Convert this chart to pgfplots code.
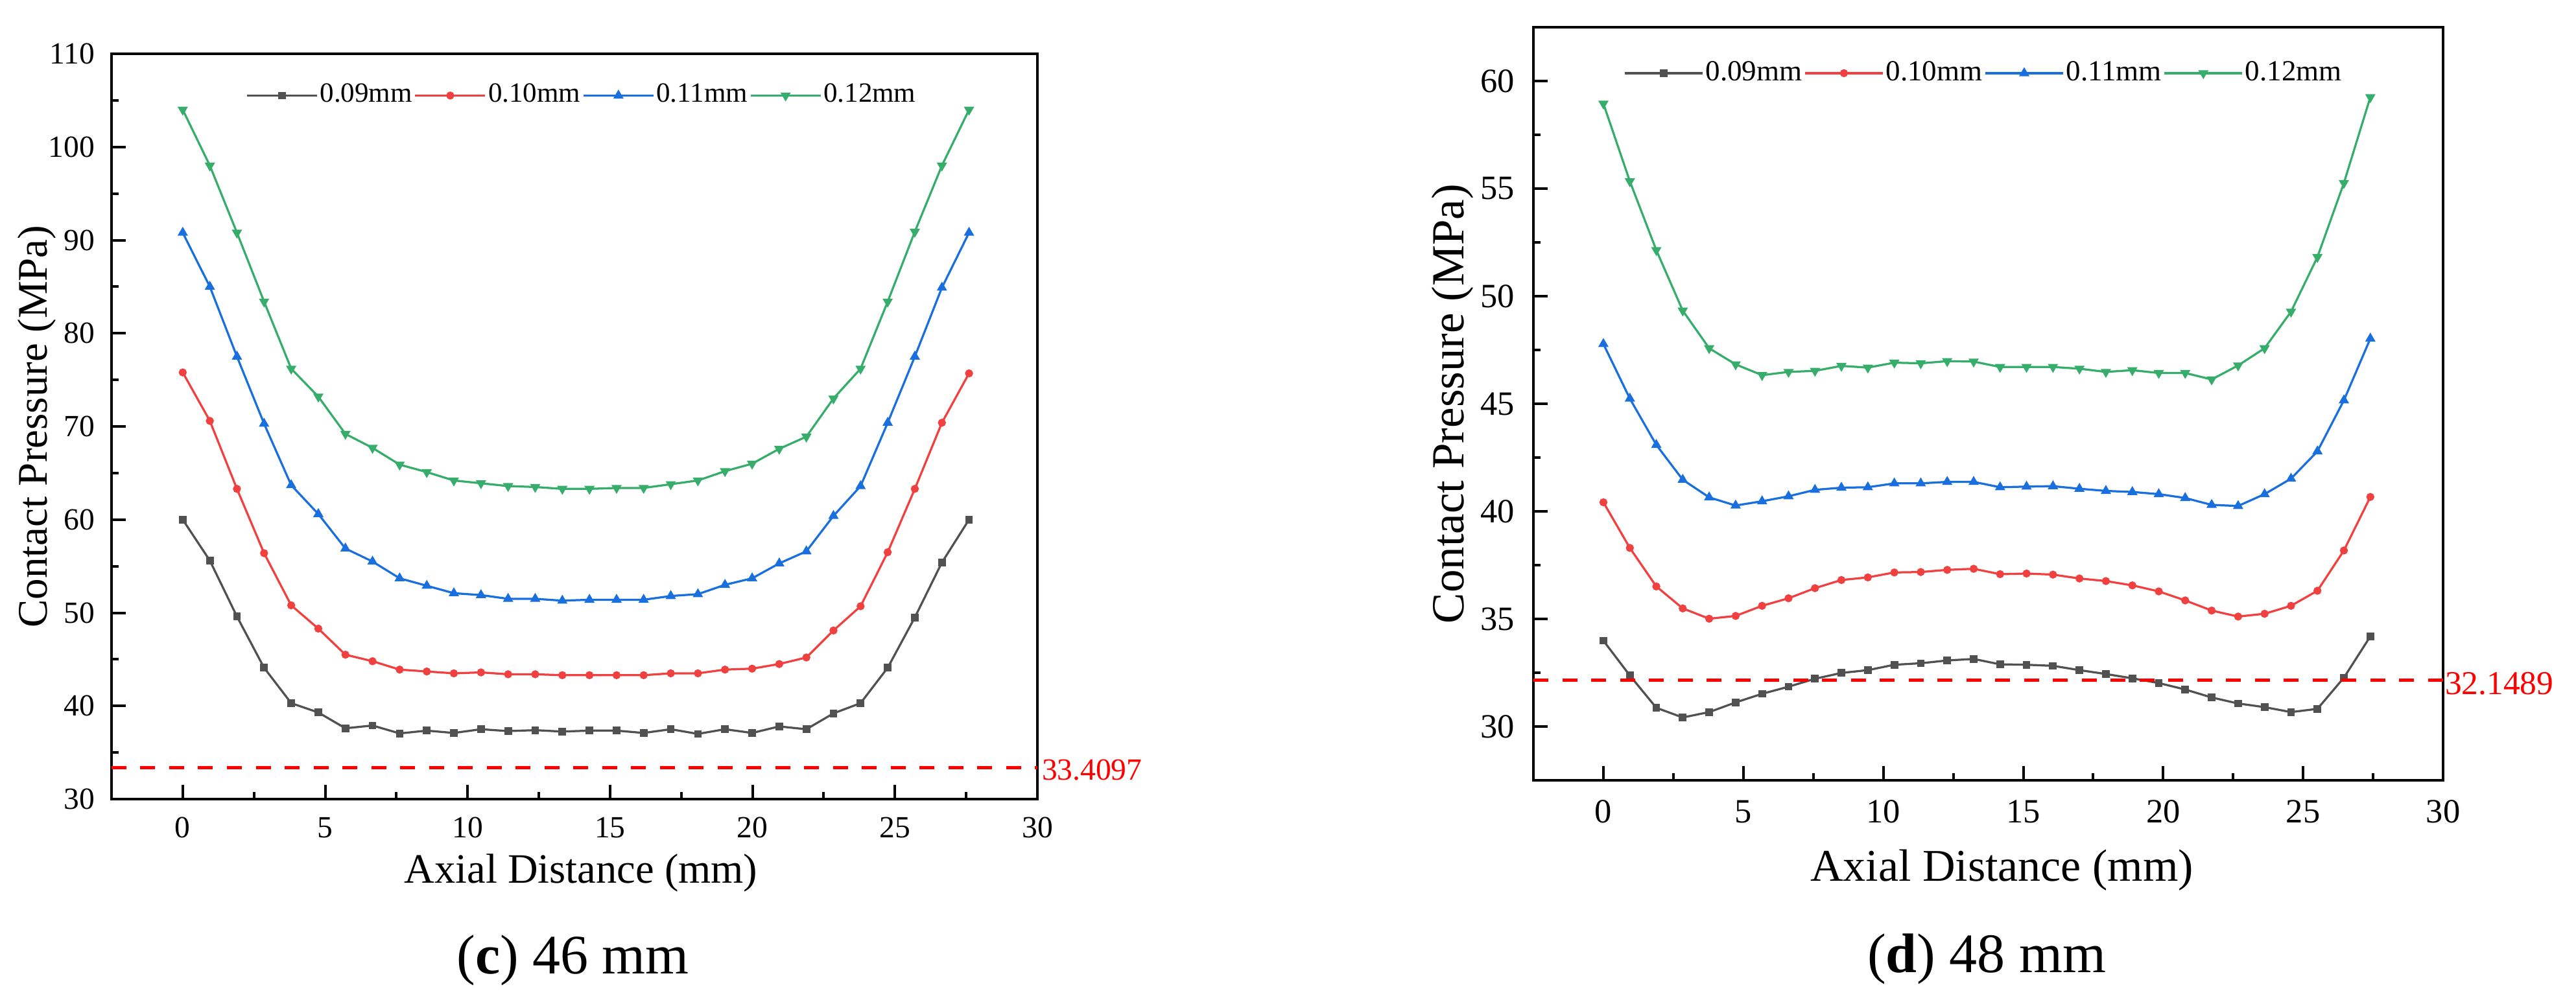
\documentclass[border=0pt]{standalone}
\usepackage{fontspec}
\setmainfont{Liberation Serif}
\usepackage{pgfplots}
\pgfplotsset{compat=1.18}
\usepackage{pgfplotstable}
\definecolor{cgrey}{HTML}{515151}
\definecolor{cred}{HTML}{F14040}
\definecolor{cblue}{HTML}{1A6FDF}
\definecolor{cgreen}{HTML}{37AD6B}

\pgfplotstableread{
x y09 y10 y11 y12
0.000 60.0 75.8 90.8 104.0
0.952 55.6 70.6 85.0 98.0
1.903 49.6 63.3 77.5 90.8
2.855 44.1 56.4 70.3 83.4
3.807 40.3 50.8 63.7 76.2
4.759 39.3 48.3 60.6 73.2
5.710 37.6 45.5 56.9 69.2
6.662 37.9 44.8 55.5 67.7
7.614 37.05 43.9 53.7 65.9
8.566 37.35 43.7 52.9 65.1
9.517 37.1 43.5 52.1 64.2
10.469 37.5 43.6 51.9 63.9
11.421 37.3 43.4 51.5 63.6
12.372 37.4 43.4 51.5 63.5
13.324 37.25 43.3 51.3 63.3
14.276 37.35 43.3 51.4 63.3
15.228 37.35 43.3 51.4 63.4
16.179 37.1 43.3 51.4 63.4
17.131 37.5 43.5 51.8 63.8
18.083 37.0 43.5 52.0 64.2
19.034 37.5 43.9 53.0 65.2
19.986 37.1 44.0 53.7 66.0
20.938 37.8 44.5 55.3 67.6
21.890 37.5 45.2 56.6 68.9
22.841 39.2 48.1 60.4 73.0
23.793 40.3 50.7 63.6 76.2
24.745 44.1 56.5 70.4 83.4
25.697 49.5 63.3 77.5 90.9
26.648 55.4 70.4 84.9 98.0
27.600 60.0 75.7 90.8 104.0
}\leftdata

\pgfplotstableread{
x y09 y10 y11 y12
0.000 33.99 40.42 47.78 58.95
0.945 32.37 38.30 45.24 55.34
1.890 30.87 36.51 43.09 52.14
2.834 30.42 35.49 41.47 49.33
3.779 30.67 35.01 40.65 47.58
4.724 31.12 35.14 40.27 46.83
5.669 31.52 35.61 40.47 46.33
6.614 31.85 35.96 40.70 46.48
7.559 32.22 36.43 41.00 46.53
8.503 32.49 36.81 41.10 46.76
9.448 32.62 36.93 41.12 46.68
10.393 32.87 37.16 41.30 46.91
11.338 32.94 37.18 41.30 46.88
12.283 33.07 37.28 41.37 46.98
13.228 33.14 37.33 41.37 46.96
14.172 32.89 37.08 41.12 46.71
15.117 32.87 37.11 41.15 46.71
16.062 32.82 37.06 41.17 46.71
17.007 32.62 36.88 41.05 46.63
17.952 32.44 36.76 40.95 46.48
18.897 32.24 36.56 40.90 46.56
19.841 32.02 36.28 40.80 46.43
20.786 31.72 35.86 40.62 46.43
21.731 31.35 35.39 40.30 46.13
22.676 31.07 35.11 40.25 46.78
23.621 30.90 35.24 40.80 47.58
24.566 30.67 35.61 41.52 49.28
25.510 30.82 36.31 42.79 51.82
26.455 32.27 38.18 45.16 55.26
27.400 34.19 40.67 48.03 59.25
}\rightdata

\pgfplotsset{
  myax/.style={
    scale only axis,
    clip mode=individual,
    axis line style={line width=0.8pt},
    tick align=inside,
    xtick pos=bottom, ytick pos=left,
    major tick length=4.4pt, minor tick length=2.2pt,
    every major tick/.style={black, line width=0.8pt},
    every minor tick/.style={black, line width=0.8pt},
    minor x tick num=1, minor y tick num=1,
    xmin=-2.5, xmax=30, xtick={0,5,...,30},
    /pgf/number format/assume math mode=true,
    every tick label/.append style={inner sep=0pt},
    legend cell align=left,
    every axis plot/.append style={line width=0.65pt},
  },
  s09/.style={cgrey, mark=square*, mark size=0.85pt, mark options={solid}},
  s10/.style={cred, mark=*, mark size=0.9pt, mark options={solid}},
  s11/.style={cblue, mark=triangle*, mark size=1.2pt, mark options={solid}},
  s12/.style={cgreen, mark=triangle*, mark size=1.2pt, mark options={solid, rotate=180}},
}

\begin{document}
\begin{tikzpicture}
\useasboundingbox (0pt,0pt) rectangle (794.6pt,308.4pt);

% ---------------- left panel (c) ----------------
\begin{axis}[myax,
  at={(34.4pt,61.8pt)}, anchor=south west,
  width=285.6pt, height=230pt,
  ymin=30, ymax=110, ytick={30,40,...,110},
  ticklabel style={font=\fontsize{9.5}{11}\selectfont},
  yticklabel style={xshift=-5pt},
  xticklabel style={yshift=-5.4pt},
  xlabel={Axial Distance (mm)},
  xlabel style={at={(axis description cs:0.507,-0.113)}, anchor=base, font=\fontsize{12.9}{15}\selectfont},
  ylabel={Contact Pressure (MPa)},
  ylabel style={at={(axis description cs:-0.070,0.5)}, anchor=base, font=\fontsize{13}{15}\selectfont},
  legend style={draw=none, fill=none, at={(axis description cs:0.508,0.944)}, anchor=center,
    inner sep=0pt, outer sep=0pt, font=\fontsize{8.6}{10}\selectfont,
    /tikz/every even column/.append style={column sep=0pt},
    nodes={inner sep=0.6pt}},
  legend columns=4,
  legend image code/.code={\draw[mark repeat=2,mark phase=2,#1] plot coordinates {(0pt,0pt) (10.8pt,0pt) (21.6pt,0pt)};},
]
\addplot[s09] table[x=x,y=y09] {\leftdata};
\addlegendentry{0.09mm}
\addplot[s10] table[x=x,y=y10] {\leftdata};
\addlegendentry{0.10mm}
\addplot[s11] table[x=x,y=y11] {\leftdata};
\addlegendentry{0.11mm}
\addplot[s12] table[x=x,y=y12] {\leftdata};
\addlegendentry{0.12mm}
\addplot[red, line width=1pt, dash pattern=on 4.6pt off 4.3pt, no marks, forget plot] coordinates {(-2.5,33.4097) (30,33.4097)};
\node[anchor=west, inner sep=0pt, text=red, font=\fontsize{9.5}{11}\selectfont, xshift=1.2pt, yshift=-0.8pt] at (axis cs:30,33.4097) {33.4097};
\end{axis}

% ---------------- right panel (d) ----------------
\begin{axis}[myax,
  at={(473pt,67.6pt)}, anchor=south west,
  width=280.6pt, height=232.4pt,
  ymin=27.5, ymax=62.5, ytick={30,35,...,60},
  ticklabel style={font=\fontsize{10.5}{12}\selectfont},
  yticklabel style={xshift=-5.6pt},
  xticklabel style={yshift=-6pt},
  xlabel={Axial Distance (mm)},
  xlabel style={at={(axis description cs:0.515,-0.134)}, anchor=base, font=\fontsize{14}{16}\selectfont},
  ylabel={Contact Pressure (MPa)},
  ylabel style={at={(axis description cs:-0.077,0.5)}, anchor=base, font=\fontsize{14.2}{16}\selectfont},
  legend style={draw=none, fill=none, at={(axis description cs:0.495,0.939)}, anchor=center,
    inner sep=0pt, outer sep=0pt, font=\fontsize{9}{10}\selectfont,
    /tikz/every even column/.append style={column sep=0pt},
    nodes={inner sep=0.6pt}},
  legend columns=4,
  legend image code/.code={\draw[mark repeat=2,mark phase=2,#1] plot coordinates {(0pt,0pt) (12pt,0pt) (24pt,0pt)};},
]
\addplot[s09] table[x=x,y=y09] {\rightdata};
\addlegendentry{0.09mm}
\addplot[s10] table[x=x,y=y10] {\rightdata};
\addlegendentry{0.10mm}
\addplot[s11] table[x=x,y=y11] {\rightdata};
\addlegendentry{0.11mm}
\addplot[s12] table[x=x,y=y12] {\rightdata};
\addlegendentry{0.12mm}
\addplot[red, line width=1pt, dash pattern=on 4.6pt off 4.3pt, no marks, forget plot] coordinates {(-2.5,32.1489) (30,32.1489)};
\node[anchor=west, inner sep=0pt, text=red, font=\fontsize{10.3}{12}\selectfont, xshift=0.4pt, yshift=-1pt] at (axis cs:30,32.1489) {32.1489};
\end{axis}

\node[anchor=base, inner sep=0pt, font=\fontsize{17.2}{20}\selectfont] at (176.7pt,8pt) {(\textbf{c}) 46 mm};
\node[anchor=base, inner sep=0pt, font=\fontsize{17.2}{20}\selectfont] at (612.8pt,8.4pt) {(\textbf{d}) 48 mm};
\end{tikzpicture}
\end{document}
